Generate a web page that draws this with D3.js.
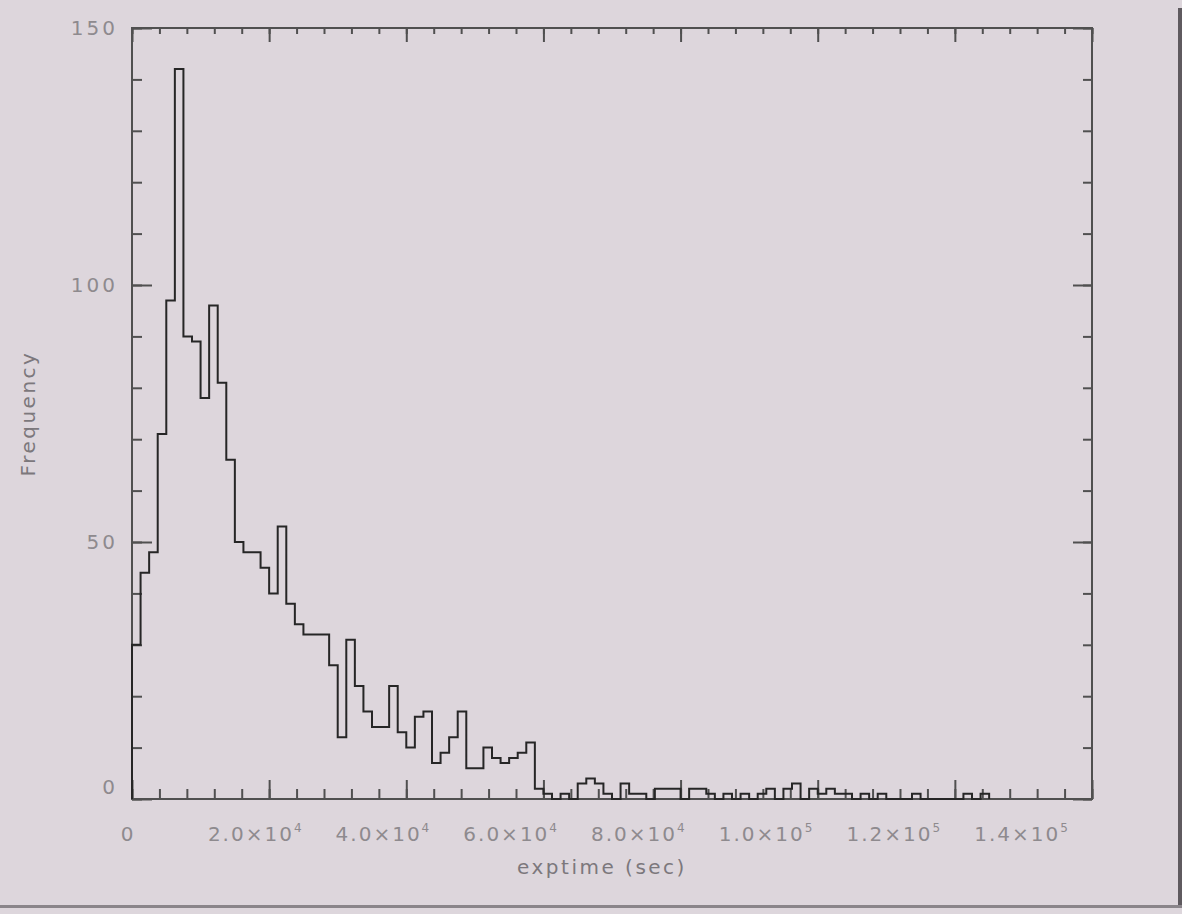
<!DOCTYPE html>
<html>
<head>
<meta charset="utf-8">
<script src="https://d3js.org/d3.v7.min.js"></script>
<style>
  body { margin: 0; background: #ddd6dc; }
  svg { display: block; }
  text { font-family: 'DejaVu Sans', sans-serif; }
</style>
</head>
<body>
<div id="graf"></div>
<script>
// I. Datos
binWidth = 1250   // segundos por bin
counts = [30, 44, 48, 71, 97, 142, 90, 89, 78, 96,
          81, 66, 50, 48, 48, 45, 40, 53, 38, 34,
          32, 32, 32, 26, 12, 31, 22, 17, 14, 14,
          22, 13, 10, 16, 17, 7, 9, 12, 17, 6,
          6, 10, 8, 7, 8, 9, 11, 2, 1, 0,
          1, 0, 3, 4, 3, 1, 0, 3, 1, 1,
          0, 2, 2, 2, 0, 2, 2, 1, 0, 1,
          0, 1, 0, 1, 2, 0, 2, 3, 0, 2,
          1, 2, 1, 1, 0, 1, 0, 1, 0, 0,
          0, 1, 0, 0, 0, 0, 0, 1, 0, 1]

xMajor = [0, 2e4, 4e4, 6e4, 8e4, 1e5, 1.2e5, 1.4e5]
xMant  = ['0', '2.0', '4.0', '6.0', '8.0', '1.0', '1.2', '1.4']
xExp   = ['', '4', '4', '4', '4', '5', '5', '5']
yMajor = [0, 50, 100, 150]
yLabels = ['0', '50', '100', '150']

// II. Configuración
ancho_total = 1182
alto_total = 914
margins = { top: 28, left: 132, right: 90, bottom: 115 }
ancho = ancho_total - margins.left - margins.right
alto  = alto_total - margins.top - margins.bottom

svg = d3.select('#graf').append('svg')
        .attr('width', ancho_total)
        .attr('height', alto_total)

// sombra del marco (foto de pantalla)
svg.append('rect').attr('x', 1178).attr('y', 8).attr('width', 4).attr('height', 900).attr('fill', '#5f5a5f')
svg.append('rect').attr('x', 0).attr('y', 905).attr('width', 1182).attr('height', 3).attr('fill', '#8a858a')

g = svg.append('g')
       .attr('transform', `translate(${ margins.left }, ${ margins.top })`)

x = d3.scaleLinear().domain([0, 1.4e5]).range([0, ancho])
y = d3.scaleLinear().domain([0, 150]).range([alto, 0])
// las etiquetas del eje x quedan algo comprimidas en la imagen
xLab = d3.scaleLinear().domain([0, 1.4e5]).range([-4, ancho - 70])

xMinor = d3.range(0, 1.4e5 + 1, 4000)
yMinor = d3.range(0, 151, 10)

function limpia(sel) {
  sel.select('.domain').remove()
  sel.selectAll('text').remove()
  sel.selectAll('line').attr('stroke', '#505050').attr('stroke-width', 2)
}

// ticks abajo
g.append('g').attr('transform', `translate(0, ${ alto })`)
 .call(d3.axisTop(x).tickValues(xMinor).tickSize(10)).call(limpia)
g.append('g').attr('transform', `translate(0, ${ alto })`)
 .call(d3.axisTop(x).tickValues(xMajor).tickSize(19)).call(limpia)
// ticks arriba
g.append('g')
 .call(d3.axisBottom(x).tickValues(xMinor).tickSize(6)).call(limpia)
g.append('g')
 .call(d3.axisBottom(x).tickValues(xMajor).tickSize(14)).call(limpia)
// ticks izquierda
g.append('g')
 .call(d3.axisRight(y).tickValues(yMinor).tickSize(10)).call(limpia)
g.append('g')
 .call(d3.axisRight(y).tickValues(yMajor).tickSize(20)).call(limpia)
// ticks derecha
g.append('g').attr('transform', `translate(${ ancho }, 0)`)
 .call(d3.axisLeft(y).tickValues(yMinor).tickSize(9)).call(limpia)
g.append('g').attr('transform', `translate(${ ancho }, 0)`)
 .call(d3.axisLeft(y).tickValues(yMajor).tickSize(19)).call(limpia)

// marco
g.append('rect')
 .attr('width', ancho).attr('height', alto)
 .attr('fill', 'none').attr('stroke', '#505050').attr('stroke-width', 2)

// histograma
puntos = [[0, 0]]
counts.forEach((c, i) => puntos.push([i * binWidth, c]))
puntos.push([counts.length * binWidth, 0])

linea = d3.line()
          .x(d => x(d[0]))
          .y(d => y(d[1]))
          .curve(d3.curveStepAfter)

g.append('path')
 .datum(puntos)
 .attr('d', linea)
 .attr('fill', 'none')
 .attr('stroke', '#262626')
 .attr('stroke-width', 2)

// etiquetas eje x
xt = g.selectAll('.xlab')
      .data(xMajor)
      .enter()
      .append('text')
        .attr('class', 'xlab')
        .attr('x', d => xLab(d))
        .attr('y', alto + 42)
        .attr('text-anchor', 'middle')
        .attr('fill', '#8e8a8e')
        .style('font-size', '20px')
        .style('letter-spacing', '2px')
xt.append('tspan').text((d, i) => xMant[i] + (xExp[i] ? '×10' : ''))
xt.append('tspan')
  .text((d, i) => xExp[i])
  .attr('dy', -9)
  .style('font-size', '12px')

// etiquetas eje y
g.selectAll('.ylab')
 .data(yMajor)
 .enter()
 .append('text')
   .attr('class', 'ylab')
   .attr('x', -14)
   .attr('y', d => y(d) + 7 - (d == 0 ? 12 : 0))
   .attr('text-anchor', 'end')
   .attr('fill', '#8e8a8e')
   .style('font-size', '20px')
   .style('letter-spacing', '3px')
   .text((d, i) => yLabels[i])

// títulos
g.append('text')
 .attr('x', ancho / 2 - 10)
 .attr('y', alto + 75)
 .attr('text-anchor', 'middle')
 .attr('fill', '#7c787c')
 .style('font-size', '20px')
 .style('letter-spacing', '2.5px')
 .text('exptime (sec)')

g.append('text')
 .attr('transform', `translate(${ 35 - margins.left }, ${ alto / 2 }) rotate(-90)`)
 .attr('text-anchor', 'middle')
 .attr('fill', '#7c787c')
 .style('font-size', '20px')
 .style('letter-spacing', '2.5px')
 .text('Frequency')
</script>
</body>
</html>
